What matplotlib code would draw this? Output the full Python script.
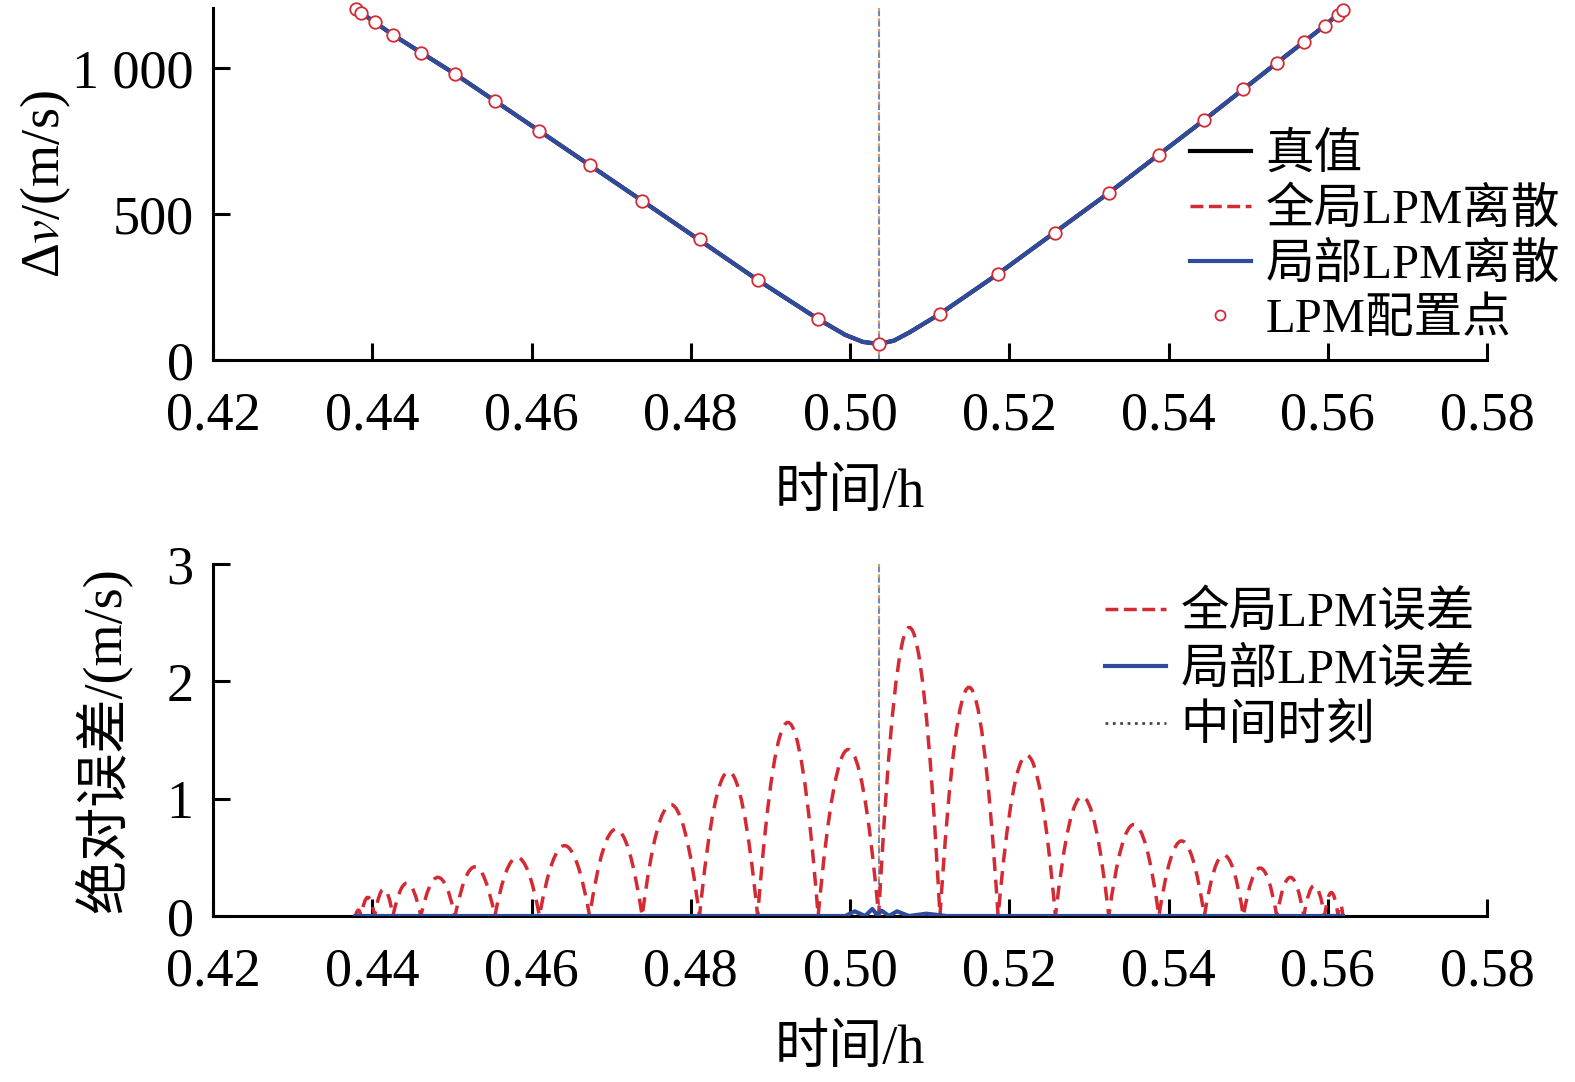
import numpy as np
import matplotlib
matplotlib.use("Agg")
import matplotlib.pyplot as plt
from matplotlib.path import Path
from matplotlib.patches import PathPatch
from matplotlib.font_manager import FontProperties

plt.rcParams['font.family'] = ['Liberation Serif', 'Noto Sans CJK SC']
plt.rcParams['mathtext.fontset'] = 'stix'

# LPM collocation points (time / h, delta-v / m/s)
t_lpm = [0.4379, 0.4386, 0.4403, 0.4426, 0.4461, 0.4504, 0.4554, 0.4610,
         0.4673, 0.4739, 0.4811, 0.4884, 0.4960, 0.5036, 0.5113, 0.5186,
         0.5258, 0.5325, 0.5388, 0.5445, 0.5494, 0.5536, 0.5570, 0.5596,
         0.5613, 0.5619]
v_lpm = [1202, 1188, 1158, 1113, 1051, 979, 887, 784, 668, 545, 414, 274,
         140, 55, 158, 295, 435, 572, 702, 822, 928, 1017, 1089, 1144,
         1182, 1199]

# true curve
t_true = [0.4379, 0.4426, 0.4504, 0.4610, 0.4739, 0.4884, 0.4960, 0.4994,
          0.5016, 0.5036, 0.5055, 0.5075, 0.5113, 0.5186, 0.5325, 0.5445,
          0.5536, 0.5596, 0.5619]
v_true = [1202, 1113, 979, 784, 545, 274, 140, 86, 62, 55, 66, 95, 158,
          295, 572, 822, 1017, 1144, 1199]

t_mid = 0.5036

# global LPM error: peak value in each interval between collocation points
err_global_peak = [0.05, 0.16, 0.23, 0.28, 0.33, 0.42, 0.50, 0.60, 0.74,
                   0.95, 1.23, 1.65, 1.42, 2.46, 1.95, 1.37, 1.02, 0.78,
                   0.64, 0.52, 0.41, 0.33, 0.26, 0.20, 0.10]

# local LPM error
t_loc = [0.4379, 0.4950, 0.4994, 0.5006, 0.5019, 0.5028, 0.5034, 0.5040,
         0.5049, 0.5059, 0.5074, 0.5096, 0.5121, 0.5619]
e_loc = [0, 0, 0, 0.04, 0.0, 0.06, 0.01, 0.045, 0.0, 0.04, 0.0, 0.02, 0, 0]

red = '#d42a34'
blue = '#2f4b9c'
fs = 39
leg_font = FontProperties(family=['Liberation Serif', 'Noto Sans CJK SC'], size=35)

fig = plt.figure(figsize=(15.75, 10.82), dpi=100)
ax1 = fig.add_axes([213/1575, 1-360/1082, 1274/1575, 352/1082])
ax2 = fig.add_axes([213/1575, 1-916/1082, 1274/1575, 352/1082])


def style(ax):
    for s in ['top', 'right']:
        ax.spines[s].set_visible(False)
    for s in ['left', 'bottom']:
        ax.spines[s].set_linewidth(2.2)
    ax.tick_params(direction='in', length=12, width=2.2, labelsize=fs)
    ax.tick_params(axis='x', pad=22)
    ax.tick_params(axis='y', pad=14)
    ax.set_xlim(0.42, 0.58)
    ax.set_xticks([0.42, 0.44, 0.46, 0.48, 0.50, 0.52, 0.54, 0.56, 0.58])
    ax.set_xticklabels(['0.42', '0.44', '0.46', '0.48', '0.50', '0.52',
                        '0.54', '0.56', '0.58'])
    ax.set_xlabel('时间/h', fontsize=fs, labelpad=20)


# top panel
style(ax1)
ax1.plot(t_true, v_true, color='black', lw=3, label='真值')
ax1.plot(t_true, v_true, color=red, lw=2.5, ls='--', label='全局LPM离散')
ax1.plot(t_true, v_true, color=blue, lw=3, label='局部LPM离散')
ax1.plot(t_lpm, v_lpm, 'o', ms=9, mfc='white', mec=red, mew=1.3,
         ls='none', label='LPM配置点', clip_on=False, zorder=5)
ax1.axvline(t_mid, color='#7088bb', lw=1.5, ls=(0, (3, 2)))
ax1.axvline(t_mid, color='#e39a5a', lw=1.5, ls=(2.5, (1.5, 3.5)))
ax1.set_ylim(0, 1205)
ax1.set_yticks([0, 500, 1000])
ax1.set_yticklabels(['0', '500', '1 000'])
ax1.set_ylabel(r'Δ$v$/(m/s)', fontsize=fs)
ax1.yaxis.set_label_coords(-0.11, 0.5)
ax1.legend(loc='upper left', bbox_to_anchor=(1190/1575, 1-132/1082),
           bbox_transform=fig.transFigure, frameon=False, prop=leg_font,
           handlelength=1.25, handletextpad=0.3, labelspacing=0.2,
           borderpad=0, borderaxespad=0, markerscale=0.8)

# bottom panel
style(ax2)
verts = [(t_lpm[0], 0)]
codes = [Path.MOVETO]
for i, p in enumerate(err_global_peak):
    a, b = t_lpm[i], t_lpm[i + 1]
    verts += [((a + b) / 2, 2 * p), (b, 0)]
    codes += [Path.CURVE3, Path.CURVE3]
ax2.add_patch(PathPatch(Path(verts, codes), fill=False, ec=red, lw=2.5,
                        ls=(0, (4, 2.5)), zorder=3))
ax2.plot([], [], color=red, lw=2.5, ls='--', label='全局LPM误差')
ax2.plot(t_loc, e_loc, color=blue, lw=3, label='局部LPM误差', zorder=4)
ax2.axvline(t_mid, color='#7088bb', lw=1.5, ls=(0, (3, 2)),
            label='中间时刻')
ax2.axvline(t_mid, color='#e39a5a', lw=1.5, ls=(2.5, (1.5, 3.5)))
ax2.set_ylim(0, 3)
ax2.set_yticks([0, 1, 2, 3])
ax2.set_ylabel('绝对误差/(m/s)', fontsize=fs)
ax2.yaxis.set_label_coords(-0.064, 0.5)
leg = ax2.legend(loc='upper left', bbox_to_anchor=(1105/1575, 1-590/1082),
                 bbox_transform=fig.transFigure, frameon=False, prop=leg_font,
                 handlelength=1.25, handletextpad=0.3, labelspacing=0.25,
                 borderpad=0, borderaxespad=0)
leg.get_lines()[2].set_color('#444455')
leg.get_lines()[2].set_linestyle(':')
leg.get_lines()[2].set_linewidth(2)

fig.savefig('out.png', dpi=100)
